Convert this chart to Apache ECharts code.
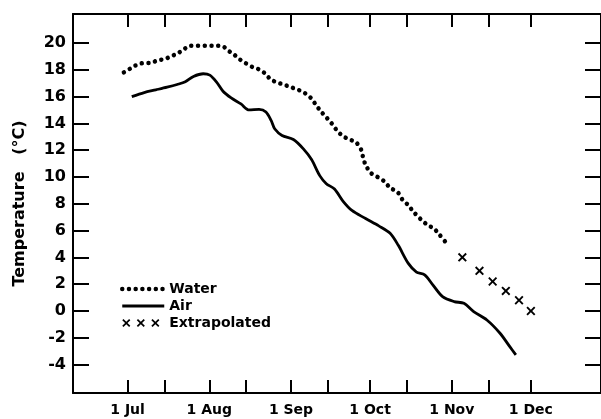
<!DOCTYPE html>
<html>
<head>
<meta charset="utf-8">
<script src="https://cdn.jsdelivr.net/npm/echarts@6/dist/echarts.min.js"></script>
<style>
  html, body { margin: 0; padding: 0; background: #fff; }
  #chart { width: 601px; height: 419px; }
</style>
</head>
<body>
<div id="chart"></div>
<script>
// days counted from 1 Jul
var monthDays = [0, 31, 62, 92, 123, 153];
var monthLabels = ['1 Jul', '1 Aug', '1 Sep', '1 Oct', '1 Nov', '1 Dec'];
var midDays = [14, 45, 76, 106, 137];
var tempTicks = [-4, -2, 0, 2, 4, 6, 8, 10, 12, 14, 16, 18, 20];

var waterDay = [-1.4, 1.1, 3.9, 6.3, 8.6, 11.3, 14.1, 16.5, 18.8, 21.5, 23.8, 26.5, 29.4, 32.2, 34.4, 36.6, 38.4, 40.3, 42.4, 44.7, 47.4, 49.6, 52, 54.2, 56.7, 59.2, 61.9, 64.8, 67.3, 69.5, 71.4, 73.3, 75.4, 77.2, 79.1, 81.3, 84.1, 86.6, 88.7, 89.3, 90.3, 92.3, 94.8, 97.2, 99.6, 102.5, 104.3, 106.2, 108.7, 111.2, 113.9, 116.2, 118.3, 120.8];
var waterTemp = [17.8, 18.1, 18.4, 18.5, 18.5, 18.7, 18.8, 19.0, 19.2, 19.55, 19.8, 19.8, 19.8, 19.8, 19.8, 19.7, 19.4, 19.15, 18.8, 18.5, 18.2, 18.05, 17.75, 17.3, 17.05, 16.9, 16.7, 16.5, 16.25, 15.9, 15.4, 14.9, 14.45, 14.05, 13.55, 13.1, 12.8, 12.6, 12.0, 11.5, 10.9, 10.3, 10.0, 9.7, 9.2, 8.85, 8.3, 7.95, 7.35, 6.85, 6.4, 6.15, 5.7, 5.1];

var airDay = [1.6, 6.3, 10.7, 15, 18.8, 21.9, 25, 28.7, 31.2, 33.7, 36.2, 39.3, 43, 46.1, 49.9, 52.5, 54.5, 55.8, 58.6, 62.9, 66.7, 69.8, 72.9, 75.4, 78.5, 81.7, 85.1, 90.3, 95.3, 99.6, 102.7, 106.5, 109.6, 112.7, 115.8, 119.5, 123.9, 127.6, 131.3, 136.3, 141.3, 145, 147.3];
var airTemp = [16.0, 16.3, 16.5, 16.7, 16.9, 17.1, 17.5, 17.7, 17.6, 17.1, 16.4, 15.9, 15.45, 15.0, 15.05, 14.85, 14.2, 13.6, 13.1, 12.8, 12.1, 11.3, 10.1, 9.5, 9.1, 8.2, 7.5, 6.9, 6.35, 5.8, 4.9, 3.55, 2.9, 2.7, 1.95, 1.07, 0.7, 0.57, -0.05, -0.67, -1.66, -2.66, -3.28];

var extraDay = [127, 133.5, 138.5, 143.5, 148.5, 153];
var extraTemp = [4.0, 3.0, 2.2, 1.5, 0.8, 0.0];

function pairs(xs, ys) {
    return xs.map(function (x, i) { return [x, ys[i]]; });
}

var crossPath = 'path://M0,1.5L1.5,0L5,3.5L8.5,0L10,1.5L6.5,5L10,8.5L8.5,10L5,6.5L1.5,10L0,8.5L3.5,5Z';
var crossRow = 'path://M0,1.5L1.5,0L5,3.5L8.5,0L10,1.5L6.5,5L10,8.5L8.5,10L5,6.5L1.5,10L0,8.5L3.5,5Z' +
    'M18,1.5L19.5,0L23,3.5L26.5,0L28,1.5L24.5,5L28,8.5L26.5,10L23,6.5L19.5,10L18,8.5L21.5,5Z' +
    'M36,1.5L37.5,0L41,3.5L44.5,0L46,1.5L42.5,5L46,8.5L44.5,10L41,6.5L37.5,10L36,8.5L39.5,5Z' +
    'M52,5L52,5Z';

var font = 'DejaVu Sans';

var chart = echarts.init(document.getElementById('chart'));

var option = {
    animation: false,
    backgroundColor: '#fff',
    grid: { left: 73, right: -8, top: 14, bottom: 26 },
    legend: {
        orient: 'vertical',
        left: 115,
        top: 277,
        itemWidth: 42,
        itemHeight: 9,
        itemGap: 3,
        textStyle: { fontFamily: font, fontWeight: 'bold', fontSize: 14, color: '#000' },
        data: [
            { name: 'Water', itemStyle: { opacity: 0 },
              lineStyle: { color: '#000', width: 4.5, type: [0.01, 6.7], cap: 'round' } },
            { name: 'Air', itemStyle: { opacity: 0 },
              lineStyle: { color: '#000', width: 3 } },
            { name: 'Extrapolated', icon: crossRow, itemStyle: { color: '#000', opacity: 1 } }
        ]
    },
    xAxis: [{
        type: 'value',
        min: -20.7,
        max: 179.6,
        splitLine: { show: false },
        axisLine: { onZero: false, lineStyle: { color: '#000', width: 2 } },
        axisTick: { inside: true, length: 13, lineStyle: { color: '#000', width: 2 },
            customValues: monthDays.concat(midDays) },
        axisLabel: {
            customValues: monthDays,
            margin: 10,
            color: '#000', fontFamily: font, fontWeight: 'bold', fontSize: 14,
            formatter: function (v) {
                var i = monthDays.indexOf(Math.round(v));
                return i >= 0 ? monthLabels[i] : '';
            }
        }
    }, {
        type: 'value',
        position: 'top',
        min: -20.7,
        max: 179.6,
        splitLine: { show: false },
        axisLine: { onZero: false, lineStyle: { color: '#000', width: 2 } },
        axisTick: { inside: true, length: 13, lineStyle: { color: '#000', width: 2 },
            customValues: monthDays.concat(midDays) },
        axisLabel: { show: false }
    }],
    yAxis: [{
        type: 'value',
        min: -6.12,
        max: 22.16,
        name: 'Temperature   (°C)',
        nameLocation: 'middle',
        nameGap: 45,
        nameTextStyle: { fontFamily: font, fontWeight: 'bold', fontSize: 16, color: '#000' },
        splitLine: { show: false },
        axisLine: { show: true, onZero: false, lineStyle: { color: '#000', width: 2 } },
        axisTick: { inside: true, length: 16, lineStyle: { color: '#000', width: 2 },
            customValues: tempTicks },
        axisLabel: {
            customValues: tempTicks,
            margin: 7,
            color: '#000', fontFamily: font, fontWeight: 'bold', fontSize: 16
        }
    }, {
        type: 'value',
        position: 'right',
        min: -6.12,
        max: 22.16,
        splitLine: { show: false },
        axisLine: { show: true, onZero: false, lineStyle: { color: '#000', width: 2 } },
        axisTick: { inside: true, length: 16, lineStyle: { color: '#000', width: 2 },
            customValues: tempTicks },
        axisLabel: { show: false }
    }],
    series: [
        {
            name: 'Water',
            type: 'line',
            smooth: 0.3,
            symbol: 'none',
            lineStyle: { color: '#000', width: 4.5, type: [0.01, 6.7], cap: 'round' },
            itemStyle: { color: '#000' },
            data: pairs(waterDay, waterTemp)
        },
        {
            name: 'Air',
            type: 'line',
            smooth: 0.3,
            symbol: 'none',
            lineStyle: { color: '#000', width: 2.8 },
            itemStyle: { color: '#000' },
            data: pairs(airDay, airTemp)
        },
        {
            name: 'Extrapolated',
            type: 'scatter',
            symbol: crossPath,
            symbolSize: 9,
            itemStyle: { color: '#000', opacity: 1 },
            data: pairs(extraDay, extraTemp)
        }
    ]
};

chart.setOption(option);
</script>
</body>
</html>
